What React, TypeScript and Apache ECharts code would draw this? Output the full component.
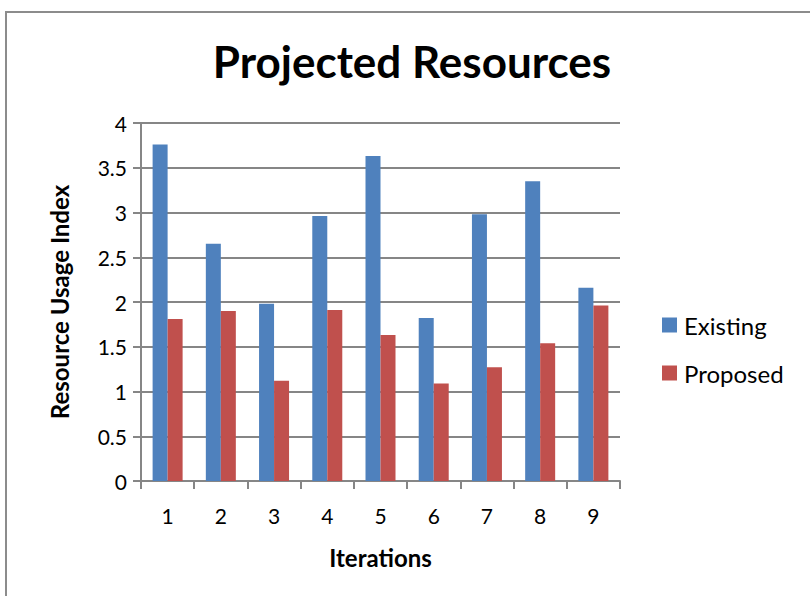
import React, { useEffect, useRef } from "react";
import * as echarts from "echarts";

const categories = ["1", "2", "3", "4", "5", "6", "7", "8", "9"];
const existing = [3.76, 2.65, 1.98, 2.96, 3.63, 1.82, 2.98, 3.35, 2.16];
const proposed = [1.81, 1.9, 1.12, 1.91, 1.63, 1.09, 1.27, 1.54, 1.96];
const yTicks = { min: 0, max: 4, interval: 0.5 };

const FONT = "Lato, 'Open Sans', sans-serif";
const AXIS_COLOR = "#868686";

export default function App() {
  const ref = useRef<HTMLDivElement>(null);
  useEffect(() => {
    if (!ref.current) return;
    const chart = echarts.init(ref.current, undefined, { renderer: "svg" });
    chart.setOption({
      animation: false,
      backgroundColor: "#ffffff",
      textStyle: { fontFamily: FONT, color: "#000" },
      title: {
        text: "Projected Resources",
        left: 407,
        top: 34,
        textAlign: "center",
        textStyle: { fontFamily: FONT, fontWeight: "bold", fontSize: 44, color: "#000" },
      },
      legend: {
        orient: "vertical",
        left: 657,
        top: 308,
        itemWidth: 15,
        itemHeight: 15,
        itemGap: 24,
        icon: "rect",
        textStyle: { fontFamily: FONT, fontSize: 24, color: "#000", padding: [0, 0, 0, 2] },
        data: ["Existing", "Proposed"],
      },
      grid: { left: 141, right: 190, top: 123, bottom: 115 },
      xAxis: {
        type: "category",
        data: categories,
        name: "Iterations",
        nameLocation: "middle",
        nameGap: 64,
        nameTextStyle: { fontFamily: FONT, fontWeight: "bold", fontSize: 24, color: "#000" },
        axisLine: { lineStyle: { color: AXIS_COLOR, width: 2 } },
        axisTick: { show: true, length: 8, inside: false, lineStyle: { color: AXIS_COLOR, width: 2 } },
        axisLabel: { fontFamily: FONT, fontSize: 21, color: "#000", margin: 24 },
      },
      yAxis: {
        type: "value",
        min: yTicks.min,
        max: yTicks.max,
        interval: yTicks.interval,
        name: "Resource Usage Index",
        nameLocation: "middle",
        nameGap: 70,
        nameRotate: 90,
        nameTextStyle: { fontFamily: FONT, fontWeight: "bold", fontSize: 24, color: "#000" },
        axisLine: { show: true, lineStyle: { color: AXIS_COLOR, width: 2 } },
        axisTick: { show: true, length: 8, lineStyle: { color: AXIS_COLOR, width: 2 } },
        axisLabel: { fontFamily: FONT, fontSize: 21, color: "#000", margin: 14 },
        splitLine: { lineStyle: { color: AXIS_COLOR, width: 2 } },
      },
      series: [
        {
          name: "Existing",
          type: "bar",
          data: existing,
          barWidth: 15,
          barGap: "0%",
          itemStyle: { color: "#4F81BD" },
        },
        {
          name: "Proposed",
          type: "bar",
          data: proposed,
          barWidth: 15,
          barGap: "0%",
          itemStyle: { color: "#C0504D" },
        },
      ],
    });
    return () => chart.dispose();
  }, []);
  return (
    <div
      style={{
        position: "absolute",
        left: 0,
        top: 0,
        width: 810,
        height: 596,
        overflow: "hidden",
        background: "#fff",
      }}
    >
      <div ref={ref} style={{ position: "absolute", left: 0, top: 0, width: 810, height: 596 }} />
      <div
        style={{
          position: "absolute",
          left: 5,
          top: 11,
          width: 900,
          height: 700,
          borderLeft: "2px solid #8c8c8c",
          borderTop: "2px solid #8c8c8c",
          pointerEvents: "none",
        }}
      />
    </div>
  );
}
